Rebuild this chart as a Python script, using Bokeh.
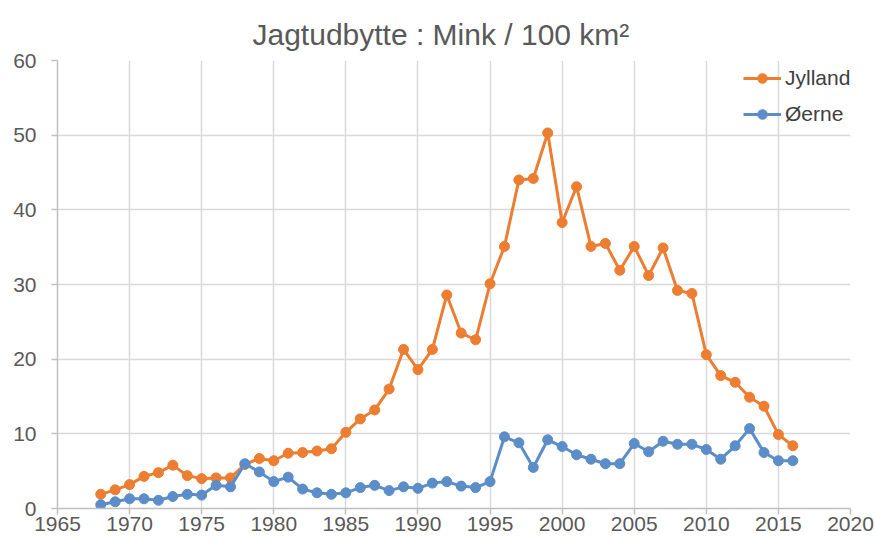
from bokeh.plotting import figure
from bokeh.models import Range1d, SingleIntervalTicker, Legend, LegendItem
from bokeh.embed import file_html
from bokeh.resources import INLINE

years = list(range(1968, 2017))
jylland = [1.9, 2.5, 3.2, 4.3, 4.8, 5.8, 4.4, 4.0, 4.1, 4.1,
           5.9, 6.7, 6.4, 7.4, 7.5, 7.7, 8.0, 10.2, 12.0, 13.2,
           16.0, 21.3, 18.6, 21.3, 28.6, 23.5, 22.6, 30.1, 35.1, 44.0,
           44.2, 50.3, 38.3, 43.1, 35.1, 35.5, 31.9, 35.1, 31.2, 34.9,
           29.2, 28.8, 20.6, 17.8, 16.9, 14.9, 13.7, 9.9, 8.4]
oerne = [0.5, 0.9, 1.3, 1.3, 1.1, 1.6, 1.9, 1.8, 3.1, 2.9,
         6.0, 4.9, 3.6, 4.2, 2.6, 2.1, 1.9, 2.1, 2.8, 3.1,
         2.4, 2.9, 2.7, 3.4, 3.6, 3.0, 2.8, 3.6, 9.6, 8.8,
         5.5, 9.2, 8.3, 7.2, 6.6, 6.0, 6.0, 8.7, 7.6, 9.0,
         8.6, 8.6, 7.9, 6.6, 8.4, 10.7, 7.5, 6.4, 6.4]
title_text = "Jagtudbytte : Mink / 100 km²"
series_names = ["Jylland", "Øerne"]
colors = ["#ED7D31", "#5B8DC9"]

FONT = "Liberation Sans"
TXT = "#595959"

p = figure(width=876, height=544, output_backend="svg", toolbar_location=None,
           x_range=Range1d(1965, 2020), y_range=Range1d(0, 60),
           min_border_left=57, min_border_right=26, min_border_top=60,
           min_border_bottom=36, background_fill_color="white",
           border_fill_color="white")
p.outline_line_color = None

p.title.text = title_text
p.title.text_font = FONT
p.title.text_font_size = "30px"
p.title.text_font_style = "normal"
p.title.text_color = TXT
p.title.align = "left"
p.title.offset = 195
p.title.standoff = 19

p.xaxis.ticker = SingleIntervalTicker(interval=5, num_minor_ticks=0)
p.yaxis.ticker = SingleIntervalTicker(interval=10, num_minor_ticks=0)
for ax in (p.xaxis, p.yaxis):
    ax.axis_line_color = "#bfbfbf"
    ax.axis_line_width = 1.5
    ax.major_tick_line_color = "#bfbfbf"
    ax.major_tick_line_width = 1.5
    ax.major_tick_out = 6
    ax.major_tick_in = 0
    ax.minor_tick_line_color = None
    ax.major_label_text_font = FONT
    ax.major_label_text_font_size = "21px"
    ax.major_label_text_color = TXT
p.xaxis.major_label_standoff = 2
p.yaxis.major_label_standoff = 15

for g in (p.xgrid, p.ygrid):
    g.grid_line_color = "#d9d9d9"
    g.grid_line_width = 1.5

items = []
for vals, name, c in zip([jylland, oerne], series_names, colors):
    r1 = p.line(years, vals, line_color=c, line_width=3)
    r2 = p.scatter(years, vals, marker="circle", size=10, fill_color=c, line_color=c)
    items.append(LegendItem(label=name, renderers=[r1, r2]))

legend = Legend(items=items, location=(686, 382), padding=0, margin=0,
                glyph_width=38, glyph_height=24, spacing=12, label_standoff=4,
                label_text_font=FONT, label_text_font_size="21px",
                label_text_color="#404040", border_line_color=None,
                background_fill_alpha=0)
p.add_layout(legend)

open("out.html", "w").write(file_html(p, INLINE))
